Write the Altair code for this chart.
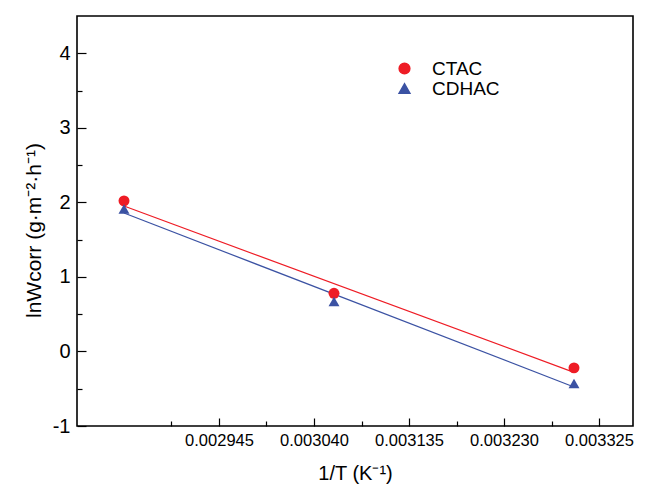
import altair as alt
import pandas as pd

# ---- data ----
series_names = ["CTAC", "CDHAC"]
inv_T = [0.002850, 0.003060, 0.003300]
ln_w_ctac = [2.02, 0.78, -0.22]
ln_w_cdhac = [1.91, 0.67, -0.43]

x_major = [0.002945, 0.003040, 0.003135, 0.003230, 0.003325]
x_minor = [0.0028975, 0.0029925, 0.0030875, 0.0031825, 0.0032775]
y_major = [-1, 0, 1, 2, 3, 4]
y_minor = [-0.5, 0.5, 1.5, 2.5, 3.5]

colors = ["#EE1C25", "#3B52A3"]
shapes = ["circle", "triangle-up"]

rows = []
for xv, yv in zip(inv_T, ln_w_ctac):
    rows.append({"x": xv, "y": yv, "series": "CTAC"})
for xv, yv in zip(inv_T, ln_w_cdhac):
    rows.append({"x": xv, "y": yv, "series": "CDHAC"})
df = pd.DataFrame(rows)

FONT = "Liberation Sans"
x_dom = [0.002803, 0.003359]
y_dom = [-1, 4.5]

x_scale = alt.Scale(domain=x_dom, nice=False, zero=False)
y_scale = alt.Scale(domain=y_dom, nice=False, zero=False)
color_scale = alt.Scale(domain=series_names, range=colors)
shape_scale = alt.Scale(domain=series_names, range=shapes)

legend = alt.Legend(title=None, orient="none", legendX=318, legendY=43,
                    labelFont=FONT, labelFontSize=19, labelColor="black",
                    labelOffset=18, symbolSize=115, rowPadding=0, padding=0)

base = alt.Chart(df)

points = base.mark_point(filled=True, size=120, opacity=1).encode(
    x=alt.X("x:Q", scale=x_scale,
            axis=alt.Axis(orient="bottom", values=x_major, format=".6f",
                          title="1/T (K⁻¹)", offset=-8, tickSize=8,
                          tickColor="black", tickWidth=1.2, domain=False,
                          grid=False, labelPadding=6, labelFontSize=16.5,
                          labelFont=FONT, labelColor="black",
                          titleFont=FONT, titleFontSize=20,
                          titleFontWeight="normal", titleColor="black",
                          titlePadding=15)),
    y=alt.Y("y:Q", scale=y_scale,
            axis=alt.Axis(orient="left", values=y_major,
                          labelExpr="'' + datum.value",
                          title="lnWcorr (g·m⁻²·h⁻¹)", offset=-9, tickSize=9,
                          tickColor="black", tickWidth=1.2, domain=False,
                          grid=False, labelPadding=7, labelFontSize=20,
                          labelFont=FONT, labelColor="black",
                          titleFont=FONT, titleFontSize=21,
                          titleFontWeight="normal", titleColor="black",
                          titlePadding=8, titleY=214)),
    color=alt.Color("series:N", scale=color_scale, legend=legend),
    shape=alt.Shape("series:N", scale=shape_scale, legend=legend),
)

fits = base.transform_regression(
    "x", "y", groupby=["series"], extent=[inv_T[0], inv_T[-1]]
).mark_line(strokeWidth=1.2).encode(
    x=alt.X("x:Q", scale=x_scale,
            axis=alt.Axis(orient="bottom", values=x_minor, labels=False,
                          title="", offset=-5, tickSize=5, tickColor="black",
                          tickWidth=1.2, domain=False, grid=False)),
    y=alt.Y("y:Q", scale=y_scale,
            axis=alt.Axis(orient="left", values=y_minor, labels=False,
                          title="", offset=-5, tickSize=5, tickColor="black",
                          tickWidth=1.2, domain=False, grid=False)),
    color=alt.Color("series:N", scale=color_scale, legend=legend),
)

chart = alt.layer(fits, points).resolve_axis(
    x="independent", y="independent"
).properties(
    width=556,
    height=410,
    autosize=alt.AutoSizeParams(type="none"),
    padding={"left": 69, "top": 8, "right": 9, "bottom": 61},
    background="white",
).configure_view(
    stroke="black", strokeWidth=1.6
)

chart.save("out.html", embed_options={"renderer": "svg", "actions": False})
